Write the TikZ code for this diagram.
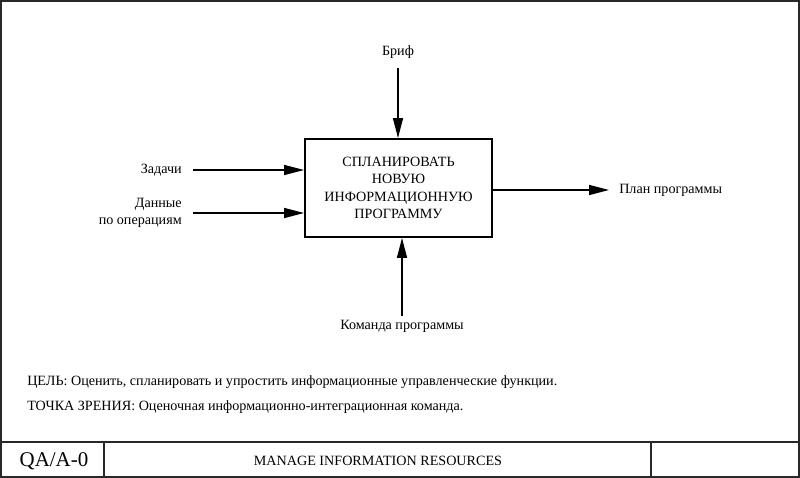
\documentclass[tikz,border=0pt]{standalone}
\usepackage{fontspec}
\setmainfont{Liberation Serif}
\usetikzlibrary{arrows.meta}
\begin{document}
\begin{tikzpicture}[x=0.75pt,y=-0.75pt,
  frameline/.style={line width=1.5pt,draw={rgb,255:red,40;green,40;blue,40}},
  conn/.style={line width=1.1pt,-{Triangle[length=15pt,width=7.5pt]}},
  lbl/.style={font=\fontsize{10.6}{12.2}\selectfont,inner sep=0pt},
  funcbox/.style={draw,line width=1.4pt,minimum width=187*0.75pt,minimum height=98*0.75pt,align=center,font=\fontsize{10.6}{13}\selectfont,inner sep=0pt}]
\useasboundingbox (0,0) rectangle (800,478);
\fill[white] (0,0) rectangle (800,478);
% frame
\draw[frameline] (1,1) rectangle (799,477);
\draw[frameline] (1,442) -- (799,442);
\draw[frameline] (104,442) -- (104,477);
\draw[frameline] (651,442) -- (651,477);
\node[font=\fontsize{15.7}{18}\selectfont,inner sep=0pt] (nodeid) at (54,461) {QA/A-0};
\node[font=\fontsize{10.6}{12}\selectfont,inner sep=0pt] (title) at (378,461) {MANAGE INFORMATION RESOURCES};
% main box
\node[funcbox] (f) at (398.5,188) {СПЛАНИРОВАТЬ\\НОВУЮ\\ИНФОРМАЦИОННУЮ\\ПРОГРАММУ};
% labels
\node[lbl] (brif) at (398,52) {Бриф};
\node[lbl,anchor=east] (zad) at (182,170) {Задачи};
\node[lbl,anchor=east,align=right] (dan) at (182,213) {Данные\\по операциям};
\node[lbl,anchor=west] (plan) at (619,190) {План программы};
\node[lbl] (kom) at (402,326) {Команда программы};
% connector endpoints
\coordinate (brifs) at (398,68);
\coordinate (zads) at (193,170);
\coordinate (dans) at (193,213);
\coordinate (plane) at (609,190);
\coordinate (koms) at (402,316);
\draw[conn] (brifs) -- (brifs |- f.north);
\draw[conn] (zads) -- (zads -| f.west);
\draw[conn] (dans) -- (dans -| f.west);
\draw[conn] (plane -| f.east) -- (plane);
\draw[conn] (koms) -- (koms |- f.south);
% purpose and viewpoint
\node[lbl,anchor=west] (purpose) at (27,382) {ЦЕЛЬ: Оценить, спланировать и упростить информационные управленческие функции.};
\node[lbl,anchor=west] (view) at (27,407) {ТОЧКА ЗРЕНИЯ: Оценочная информационно-интеграционная команда.};
\end{tikzpicture}
\end{document}
